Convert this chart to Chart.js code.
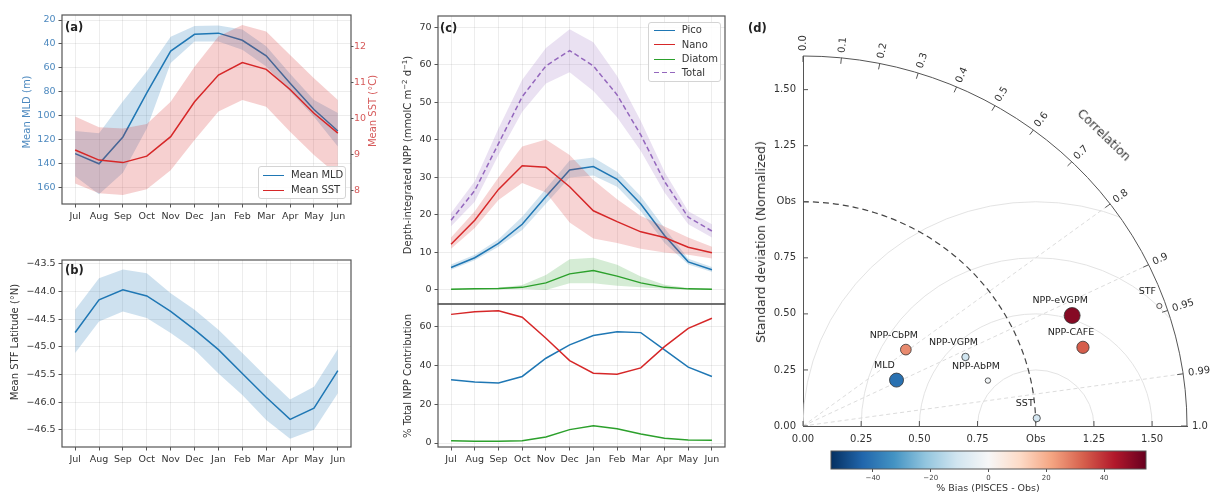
<!DOCTYPE html>
<html>
<head>
<meta charset="utf-8">
<title>PISCES seasonal cycle and Taylor diagram</title>
<script src="https://cdn.jsdelivr.net/npm/chart.js@4.4.1/dist/chart.umd.min.js"></script>
<style>
  html, body { margin: 0; padding: 0; background: #fff; }
  #fig { position: relative; width: 1211px; height: 492px; overflow: hidden; font-family: 'DejaVu Sans', sans-serif; color: #333; }
  #fig canvas { position: absolute; }
  .txt { position: absolute; white-space: nowrap; font-size: 10px; line-height: 12px; }
  .rot { transform: translate(-50%, -50%) rotate(-90deg); }
  .panel { font-weight: bold; font-size: 11.5px; color: #222; transform: translateY(-50%); }
  .legend { position: absolute; background: rgba(255,255,255,0.85); border: 1px solid #d4d4d4; border-radius: 3px; box-sizing: border-box; }
  .legend .sw { position: absolute; width: 21px; height: 1.6px; }
  .legend .lbl { position: absolute; font-size: 10px; line-height: 12px; color: #333; white-space: nowrap; }
  sup { font-size: 7px; vertical-align: 4px; line-height: 0; }
</style>
</head>
<body>
<div id="fig">
  <canvas id="ca" width="400" height="240" style="left:0;top:0"></canvas>
  <canvas id="cb" width="400" height="252" style="left:0;top:240px"></canvas>
  <canvas id="cc1" width="340" height="310" style="left:390px;top:0"></canvas>
  <canvas id="cc2" width="340" height="192" style="left:390px;top:300px"></canvas>
  <canvas id="cd" width="471" height="492" style="left:740px;top:0"></canvas>
  <canvas id="cbar" width="340" height="47" style="left:820px;top:445px"></canvas>

  <!-- panel labels -->
  <div class="txt panel" style="left:65px;top:26.5px">(a)</div>
  <div class="txt panel" style="left:65px;top:270px">(b)</div>
  <div class="txt panel" style="left:440px;top:28.3px">(c)</div>
  <div class="txt panel" style="left:748px;top:28px">(d)</div>

  <!-- axis titles -->
  <div class="txt rot" style="left:26.5px;top:111.5px;color:#4d89bf">Mean MLD (m)</div>
  <div class="txt rot" style="left:373px;top:111px;line-height:10px;color:#d65a5a">Mean SST (°C)</div>
  <div class="txt rot" style="left:15px;top:341.5px">Mean STF Latitude (°N)</div>
  <div class="txt rot" style="left:408.3px;top:155.3px">Depth-integrated NPP (mmolC m<sup>−2</sup> d<sup>−1</sup>)</div>
  <div class="txt rot" style="left:408.3px;top:376px">% Total NPP Contribution</div>
  <div class="txt rot" style="left:761px;top:241.5px;font-size:12.4px;line-height:14px">Standard deviation (Normalized)</div>
  <div class="txt" style="left:1103.5px;top:135px;font-size:12.4px;line-height:14px;transform:translate(-50%,-50%) rotate(44deg)">Correlation</div>
  <div class="txt" style="left:988px;top:487.7px;font-size:9.5px;transform:translate(-50%,-50%)">% Bias (PISCES - Obs)</div>

  <!-- legend (a) -->
  <div class="legend" style="left:258px;top:166px;width:88px;height:33px">
    <div class="sw" style="left:4px;top:7.5px;background:#1f77b4"></div>
    <div class="lbl" style="left:32px;top:2.3px">Mean MLD</div>
    <div class="sw" style="left:4px;top:22.5px;background:#d62728"></div>
    <div class="lbl" style="left:32px;top:17.3px">Mean SST</div>
  </div>
  <!-- legend (c) -->
  <div class="legend" style="left:648px;top:22px;width:73px;height:60px">
    <div class="sw" style="left:4.7px;top:6.5px;background:#1f77b4"></div>
    <div class="lbl" style="left:32.7px;top:1.3px">Pico</div>
    <div class="sw" style="left:4.7px;top:20.9px;background:#d62728"></div>
    <div class="lbl" style="left:32.7px;top:15.7px">Nano</div>
    <div class="sw" style="left:4.7px;top:35.5px;background:#2ca02c"></div>
    <div class="lbl" style="left:32.7px;top:30.3px">Diatom</div>
    <div class="sw" style="left:4.7px;top:48.9px;background:repeating-linear-gradient(90deg,#9467bd 0 5px,transparent 5px 8px)"></div>
    <div class="lbl" style="left:32.7px;top:43.7px">Total</div>
  </div>
</div>

<script>
// ---- data ----
const months = ['Jul', 'Aug', 'Sep', 'Oct', 'Nov', 'Dec', 'Jan', 'Feb', 'Mar', 'Apr', 'May', 'Jun'];

// (a) mixed layer depth (m) and SST (°C)
const mldMean    = [132, 140.5, 118, 81, 46, 32, 31, 37, 50, 73, 95, 113];
const mldShallow = [113, 115, 88, 63, 34, 25, 24.5, 28, 42, 65, 87, 98];
const mldDeep    = [151, 166, 148, 111, 56, 38, 38, 45, 59, 80, 101, 126];
const sstMean = [9.13, 8.85, 8.78, 8.96, 9.5, 10.47, 11.21, 11.56, 11.37, 10.81, 10.15, 9.6];
const sstLow  = [8.2, 7.93, 7.88, 8.04, 8.57, 9.41, 10.2, 10.52, 10.33, 9.64, 8.99, 8.43];
const sstHigh = [10.06, 9.76, 9.73, 9.85, 10.47, 11.44, 12.28, 12.6, 12.42, 11.77, 11.12, 10.52];
const mldTicks = [20, 40, 60, 80, 100, 120, 140, 160];
const sstTicks = [8, 9, 10, 11, 12];

// (b) STF latitude
const stfMean = [-44.74, -44.15, -43.97, -44.08, -44.36, -44.69, -45.05, -45.48, -45.91, -46.31, -46.11, -45.43];
const stfLow  = [-45.11, -44.54, -44.36, -44.48, -44.75, -45.05, -45.48, -45.87, -46.32, -46.66, -46.5, -45.84];
const stfHigh = [-44.33, -43.76, -43.6, -43.67, -44.03, -44.33, -44.69, -45.11, -45.54, -45.95, -45.72, -45.04];
const stfTicks = [-46.5, -46, -45.5, -45, -44.5, -44, -43.5];

// (c) NPP by size class
const picoMean = [6.0, 8.6, 12.4, 17.5, 24.9, 32.0, 32.9, 29.5, 22.9, 14.5, 7.5, 5.4];
const picoLow  = [5.4, 7.9, 11.5, 16, 23, 30, 30.5, 27.5, 21, 12.5, 6.8, 4.8];
const picoHigh = [6.8, 9.4, 13.5, 19.5, 27, 34.5, 35.3, 31.5, 25, 16.5, 8.3, 6.1];
const nanoMean = [12.2, 18.6, 26.8, 33.1, 32.7, 27.5, 21.1, 18.2, 15.5, 14.0, 11.4, 9.9];
const nanoLow  = [11, 16.5, 24, 28.5, 26, 18, 13.7, 12.5, 11, 10, 9.4, 8.4];
const nanoHigh = [14, 21, 30, 38.2, 40.1, 36, 29.3, 24.2, 19.7, 16.9, 14, 11.5];
const diatomMean = [0.2, 0.3, 0.4, 0.7, 1.9, 4.3, 5.2, 3.7, 1.9, 0.7, 0.3, 0.2];
const diatomLow  = [0.1, 0.2, 0.2, 0.3, 0.0, 1.8, 1.8, 1.1, 0.7, 0.3, 0.1, 0.1];
const diatomHigh = [0.3, 0.4, 0.6, 1.3, 4.0, 8.2, 8.6, 6.7, 3.6, 1.4, 0.5, 0.3];
const totalMean = [18.6, 26.5, 39, 51.5, 59.7, 63.8, 59.7, 52, 41.3, 28.9, 19.4, 15.7];
const totalLow  = [17, 23.5, 36, 47.5, 55, 58, 53, 46, 37, 26, 17.5, 14];
const totalHigh = [20.5, 29, 43, 56, 64.5, 69.5, 66, 57, 45, 31.5, 21, 17.5];
const nppTicks = [0, 10, 20, 30, 40, 50, 60, 70];
const picoPct   = [32.6, 31.4, 30.9, 34.3, 43.7, 50.6, 55.4, 57.4, 56.9, 48, 39.1, 34.3];
const nanoPct   = [66.3, 67.7, 68.2, 64.8, 54.0, 42.5, 36, 35.5, 38.7, 49.7, 59.1, 64.3];
const diatomPct = [1.2, 0.9, 0.9, 1.2, 3.1, 6.9, 8.9, 7.4, 4.6, 2.4, 1.5, 1.4];
const pctTicks = [0, 20, 40, 60];

// (d) Taylor diagram
const taylorNames = ['STF', 'NPP-eVGPM', 'NPP-CAFE', 'NPP-CbPM', 'NPP-VGPM', 'MLD', 'NPP-AbPM', 'SST'];
const taylorStd   = [1.622, 1.257, 1.253, 0.558, 0.763, 0.451, 0.820, 1.005];
const taylorCorr  = [0.944, 0.920, 0.960, 0.792, 0.915, 0.891, 0.969, 0.9994];
const taylorBias  = [1, 50, 33, 26, -11, -41, -2, -10];
const stdTicks = [0, 0.25, 0.5, 0.75, 1, 1.25, 1.5];
const stdMax = 1.65;
const corrTicks  = [0, 0.1, 0.2, 0.3, 0.4, 0.5, 0.6, 0.7, 0.8, 0.9, 0.95, 0.99, 1];
const corrLabels = ['0.0', '0.1', '0.2', '0.3', '0.4', '0.5', '0.6', '0.7', '0.8', '0.9', '0.95', '0.99', '1.0'];
const corrGrid = [0.8, 0.9, 0.99];
const rmsLevels = [0.25, 0.5, 0.75, 1.0];
const biasTicks = [-40, -20, 0, 20, 40];
const biasMin = -54.5, biasMax = 54.5;
const rdbuR = ['#053061', '#2166ac', '#4393c3', '#92c5de', '#d1e5f0', '#f7f7f7', '#fddbc7', '#f4a582', '#d6604d', '#b2182b', '#67001f'];

// ---- styling ----
const GRID = 'rgba(0,0,0,0.07)';
const SPINE = '#555';
const BLUE = '#1f77b4', RED = '#d62728', GREEN = '#2ca02c', PURPLE = '#9467bd';

Chart.defaults.font.family = "'DejaVu Sans', sans-serif";
Chart.defaults.font.size = 9.5;
Chart.defaults.color = '#333';
Chart.defaults.animation = false;
Chart.defaults.responsive = false;
Chart.defaults.plugins.legend.display = false;
Chart.defaults.plugins.tooltip.enabled = false;

function pts(vals) { return vals.map((v, i) => ({ x: i, y: v })); }

// fix an axis box to a given size so the chart areas line up
function fitTo(size) {
    return s => {
        if (s.isHorizontal()) s.height = size; else s.width = size;
        s.paddingLeft = s.paddingRight = s.paddingTop = s.paddingBottom = 0;
    };
}
function tickAt(values) { return s => { s.ticks = values.map(v => ({ value: v })); }; }
const minus = (v, d) => (v < 0 ? '\u2212' : '') + Math.abs(v).toFixed(d);

const frame = {
    id: 'frame',
    afterDraw(chart) {
        const a = chart.chartArea, c = chart.ctx;
        c.save();
        c.strokeStyle = SPINE;
        c.lineWidth = 1.2;
        c.strokeRect(a.left, a.top, a.right - a.left, a.bottom - a.top);
        c.restore();
    }
};

function bandSets(lo, hi, color, axis, order) {
    return [
        { data: pts(lo), yAxisID: axis, borderWidth: 0, borderColor: 'rgba(0,0,0,0)', pointRadius: 0, fill: false, order },
        { data: pts(hi), yAxisID: axis, borderWidth: 0, borderColor: 'rgba(0,0,0,0)', pointRadius: 0, fill: '-1', backgroundColor: color, order }
    ];
}
function lineSet(vals, color, axis, order, dash) {
    return { data: pts(vals), yAxisID: axis, borderColor: color, borderWidth: 1.5, pointRadius: 0,
             fill: false, tension: 0, borderDash: dash || [], order };
}

function monthAxis(h, labels) {
    return {
        type: 'linear', min: -0.55, max: 11.55,
        afterBuildTicks: tickAt(months.map((m, i) => i)),
        afterFit: fitTo(h),
        border: { display: false },
        grid: { color: GRID, drawTicks: labels, tickLength: 3.5, tickColor: SPINE },
        ticks: { display: labels, autoSkip: false, maxRotation: 0, padding: 3, callback: v => months[v] }
    };
}
function valueAxis(min, max, ticks, w, extra) {
    return Object.assign({
        type: 'linear', min, max,
        afterBuildTicks: tickAt(ticks),
        afterFit: fitTo(w),
        border: { display: false },
        grid: { color: GRID, tickLength: 3.5, tickColor: SPINE },
        ticks: { padding: 3 }
    }, extra || {});
}

// ---- (a) ----
new Chart(document.getElementById('ca'), {
    type: 'line',
    data: { datasets: [
        ...bandSets(mldShallow, mldDeep, 'rgba(31,119,180,0.22)', 'y', 4),
        lineSet(mldMean, BLUE, 'y', 3),
        ...bandSets(sstLow, sstHigh, 'rgba(214,39,40,0.22)', 'y2', 2),
        lineSet(sstMean, RED, 'y2', 1)
    ] },
    options: {
        devicePixelRatio: 1,
        layout: { padding: { top: 15, right: 0, bottom: 0, left: 0 } },
        scales: {
            x: monthAxis(36, true),
            y: valueAxis(15.8, 174.2, mldTicks, 62, { reverse: true, ticks: { padding: 3, color: '#4d89bf' } }),
            y2: valueAxis(7.63, 12.88, sstTicks, 49, {
                position: 'right',
                grid: { drawOnChartArea: false, tickLength: 2.5, tickColor: SPINE },
                ticks: { padding: 0.5, color: '#d65a5a' }
            })
        }
    },
    plugins: [frame]
});

// ---- (b) ----
new Chart(document.getElementById('cb'), {
    type: 'line',
    data: { datasets: [
        ...bandSets(stfLow, stfHigh, 'rgba(31,119,180,0.22)', 'y', 2),
        lineSet(stfMean, BLUE, 'y', 1)
    ] },
    options: {
        devicePixelRatio: 1,
        layout: { padding: { top: 20, right: 49, bottom: 0, left: 0 } },
        scales: {
            x: monthAxis(45, true),
            y: valueAxis(-46.81, -43.43, stfTicks, 62, { ticks: { padding: 3, callback: v => minus(v, 1) } })
        }
    },
    plugins: [frame]
});

// ---- (c) top: NPP ----
new Chart(document.getElementById('cc1'), {
    type: 'line',
    data: { datasets: [
        ...bandSets(picoLow, picoHigh, 'rgba(31,119,180,0.2)', 'y', 8),
        lineSet(picoMean, BLUE, 'y', 7),
        ...bandSets(nanoLow, nanoHigh, 'rgba(214,39,40,0.2)', 'y', 6),
        lineSet(nanoMean, RED, 'y', 5),
        ...bandSets(diatomLow, diatomHigh, 'rgba(44,160,44,0.2)', 'y', 4),
        lineSet(diatomMean, GREEN, 'y', 3),
        ...bandSets(totalLow, totalHigh, 'rgba(148,103,189,0.2)', 'y', 2),
        lineSet(totalMean, PURPLE, 'y', 1, [5, 3])
    ] },
    options: {
        devicePixelRatio: 1,
        layout: { padding: { top: 16, right: 5, bottom: 0, left: 0 } },
        scales: {
            x: monthAxis(6, false),
            y: valueAxis(-3.73, 73.0, nppTicks, 48)
        }
    },
    plugins: [frame]
});

// ---- (c) bottom: % contribution ----
new Chart(document.getElementById('cc2'), {
    type: 'line',
    data: { datasets: [
        lineSet(picoPct, BLUE, 'y', 3),
        lineSet(nanoPct, RED, 'y', 2),
        lineSet(diatomPct, GREEN, 'y', 1)
    ] },
    options: {
        devicePixelRatio: 1,
        layout: { padding: { top: 4, right: 5, bottom: 0, left: 0 } },
        scales: {
            x: monthAxis(45, true),
            y: valueAxis(-2.06, 71.65, pctTicks, 48)
        }
    },
    plugins: [frame]
});

// ---- (d) Taylor diagram ----
function hexRgb(h) { return [1, 3, 5].map(i => parseInt(h.substr(i, 2), 16)); }
function biasColor(b) {
    const t = Math.min(1, Math.max(0, (b - biasMin) / (biasMax - biasMin))) * (rdbuR.length - 1);
    const i = Math.min(rdbuR.length - 2, Math.floor(t)), f = t - i;
    const a = hexRgb(rdbuR[i]), c = hexRgb(rdbuR[i + 1]);
    return 'rgb(' + a.map((v, k) => Math.round(v + (c[k] - v) * f)).join(',') + ')';
}

const taylorGrid = {
    id: 'taylorGrid',
    beforeDatasetsDraw(chart) {
        const { ctx, scales: { x, y } } = chart;
        const ox = x.getPixelForValue(0), oy = y.getPixelForValue(0);
        const sx = x.getPixelForValue(1) - ox, sy = oy - y.getPixelForValue(1);
        const R = stdMax;

        // rms contours and correlation grid, clipped to the quarter disc
        ctx.save();
        ctx.beginPath();
        ctx.moveTo(ox, oy);
        ctx.ellipse(ox, oy, R * sx, R * sy, 0, -Math.PI / 2, 0);
        ctx.closePath();
        ctx.clip();
        ctx.lineWidth = 0.9;
        ctx.strokeStyle = '#e0e0e0';
        rmsLevels.forEach(r => {
            ctx.beginPath();
            ctx.ellipse(x.getPixelForValue(1), oy, r * sx, r * sy, 0, Math.PI, 2 * Math.PI);
            ctx.stroke();
        });
        ctx.setLineDash([4, 3]);
        ctx.strokeStyle = '#d8d8d8';
        corrGrid.forEach(c => {
            ctx.beginPath();
            ctx.moveTo(ox, oy);
            ctx.lineTo(x.getPixelForValue(R * c), y.getPixelForValue(R * Math.sqrt(1 - c * c)));
            ctx.stroke();
        });
        ctx.restore();

        ctx.save();
        // reference (Obs) std arc
        ctx.strokeStyle = '#444';
        ctx.lineWidth = 1.2;
        ctx.setLineDash([6, 4]);
        ctx.beginPath();
        ctx.ellipse(ox, oy, sx, sy, 0, -Math.PI / 2, 0);
        ctx.stroke();
        ctx.setLineDash([]);
        // outer arc
        ctx.strokeStyle = SPINE;
        ctx.lineWidth = 1;
        ctx.beginPath();
        ctx.ellipse(ox, oy, R * sx, R * sy, 0, -Math.PI / 2, 0);
        ctx.stroke();
        // inward ticks on the std axes
        stdTicks.forEach(v => {
            ctx.beginPath();
            ctx.moveTo(ox, y.getPixelForValue(v)); ctx.lineTo(ox + 5, y.getPixelForValue(v));
            ctx.moveTo(x.getPixelForValue(v), oy); ctx.lineTo(x.getPixelForValue(v), oy - 5);
            ctx.stroke();
        });
        // correlation ticks + labels
        ctx.font = "10px 'DejaVu Sans'";
        ctx.fillStyle = '#333';
        ctx.textAlign = 'left';
        ctx.textBaseline = 'middle';
        corrTicks.forEach((c, i) => {
            const s = Math.sqrt(Math.max(0, 1 - c * c));
            const tx = x.getPixelForValue(R * c), ty = y.getPixelForValue(R * s);
            const a = Math.atan2(oy - ty, tx - ox);
            const ca = Math.cos(a), sa = Math.sin(a);
            ctx.beginPath();
            ctx.moveTo(tx, ty);
            ctx.lineTo(tx - 6 * ca, ty + 6 * sa);
            ctx.stroke();
            ctx.save();
            ctx.translate(tx + 5 * ca, ty - 5 * sa);
            ctx.rotate(-a);
            ctx.fillText(corrLabels[i], 0, 0);
            ctx.restore();
        });
        ctx.restore();
    },
    afterDatasetsDraw(chart) {
        const ctx = chart.ctx;
        const meta = chart.getDatasetMeta(0);
        ctx.save();
        ctx.font = "9.5px 'DejaVu Sans'";
        ctx.fillStyle = '#222';
        ctx.textAlign = 'center';
        ctx.textBaseline = 'middle';
        meta.data.forEach((p, i) => ctx.fillText(taylorNames[i], p.x - 12, p.y - 14.5));
        ctx.restore();
    }
};

const stdAxis = (w) => ({
    type: 'linear', min: 0, max: stdMax,
    afterBuildTicks: tickAt(stdTicks),
    afterFit: fitTo(w),
    border: { display: true, color: SPINE, width: 1 },
    grid: { drawOnChartArea: false, drawTicks: false },
    ticks: { padding: 7, font: { size: 10 }, callback: v => (v === 1 ? 'Obs' : v.toFixed(2)) }
});

new Chart(document.getElementById('cd'), {
    type: 'scatter',
    data: { datasets: [{
        data: taylorStd.map((s, i) => ({ x: s * taylorCorr[i], y: s * Math.sqrt(1 - taylorCorr[i] * taylorCorr[i]) })),
        pointRadius: taylorBias.map(b => 2.5 + Math.abs(b) * 0.11),
        pointBackgroundColor: taylorBias.map(biasColor),
        pointBorderColor: '#333',
        pointBorderWidth: 0.8
    }] },
    options: {
        devicePixelRatio: 1,
        layout: { padding: { top: 56, right: 24, bottom: 0, left: 0 } },
        scales: { x: stdAxis(66), y: stdAxis(63) }
    },
    plugins: [taylorGrid]
});

// ---- colorbar ----
const cbarFill = {
    id: 'cbarFill',
    beforeDatasetsDraw(chart) {
        const { ctx, chartArea: a } = chart;
        const g = ctx.createLinearGradient(a.left, 0, a.right, 0);
        rdbuR.forEach((c, i) => g.addColorStop(i / (rdbuR.length - 1), c));
        ctx.save();
        ctx.fillStyle = g;
        ctx.fillRect(a.left, a.top, a.right - a.left, a.bottom - a.top);
        ctx.strokeStyle = SPINE;
        ctx.lineWidth = 1;
        ctx.strokeRect(a.left, a.top, a.right - a.left, a.bottom - a.top);
        ctx.restore();
    }
};
new Chart(document.getElementById('cbar'), {
    type: 'scatter',
    data: { datasets: [{ data: [] }] },
    options: {
        devicePixelRatio: 1,
        layout: { padding: { top: 6, right: 14, bottom: 0, left: 11 } },
        scales: {
            x: {
                type: 'linear', min: biasMin, max: biasMax,
                afterBuildTicks: tickAt(biasTicks),
                afterFit: fitTo(23),
                border: { display: false },
                grid: { drawOnChartArea: false, tickLength: 3, tickColor: SPINE },
                ticks: { padding: 2, font: { size: 7 }, color: '#444', callback: v => minus(v, 0) }
            },
            y: { display: false, min: 0, max: 1 }
        }
    },
    plugins: [cbarFill]
});
</script>
</body>
</html>
